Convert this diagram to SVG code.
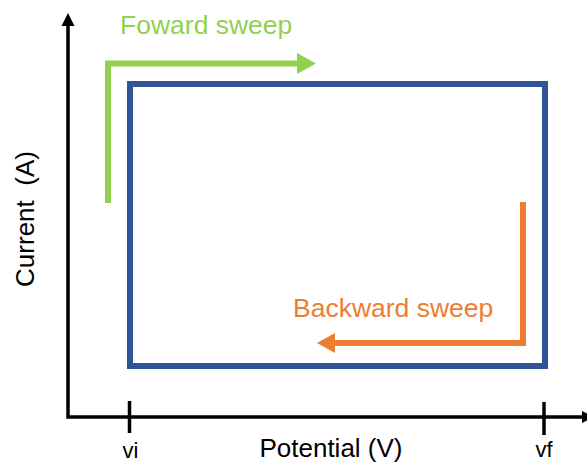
<svg xmlns="http://www.w3.org/2000/svg" width="587" height="464" viewBox="0 0 587 464">
<style>
text { font-family: "Liberation Sans", Arial, sans-serif; }
.axis { stroke: #000; stroke-width: 3.5; fill: none; }
.lbl { font-size: 26px; fill: #000; }
.tick { font-size: 22px; fill: #000; }
</style>
<rect width="587" height="464" fill="#fff"/>
<g id="axes">
  <path class="axis" d="M68,24 V417 H584"/>
  <polygon points="61.5,26 68,13 74.5,26" fill="#000"/>
  <polygon points="582,411 594,417 582,423" fill="#000"/>
  <line class="axis" x1="129.5" y1="401" x2="129.5" y2="433"/>
  <line class="axis" x1="544" y1="402" x2="544" y2="435"/>
</g>
<g id="labels">
  <text class="lbl" transform="translate(34,219) rotate(-90)" text-anchor="middle" xml:space="preserve">Current  (A)</text>
  <text class="lbl" x="331" y="457" text-anchor="middle" font-size="25">Potential (V)</text>
  <text class="tick" x="130.5" y="458" text-anchor="middle">vi</text>
  <text class="tick" x="544" y="457" text-anchor="middle">vf</text>
</g>
<g id="cv-loop">
  <rect x="130" y="84" width="415" height="282" fill="none" stroke="#2F5597" stroke-width="6"/>
</g>
<g id="forward">
  <path d="M108,203 V63.5 H298" fill="none" stroke="#92D050" stroke-width="6"/>
  <polygon points="297,53 316,63.5 297,74" fill="#92D050"/>
  <text x="120" y="34" font-size="26.5" fill="#92D050">Foward sweep</text>
</g>
<g id="backward">
  <path d="M523,202 V343 H334" fill="none" stroke="#ED7D31" stroke-width="6"/>
  <polygon points="335,333 317,343 335,353" fill="#ED7D31"/>
  <text x="293" y="317" font-size="26.5" fill="#ED7D31">Backward sweep</text>
</g>
</svg>
